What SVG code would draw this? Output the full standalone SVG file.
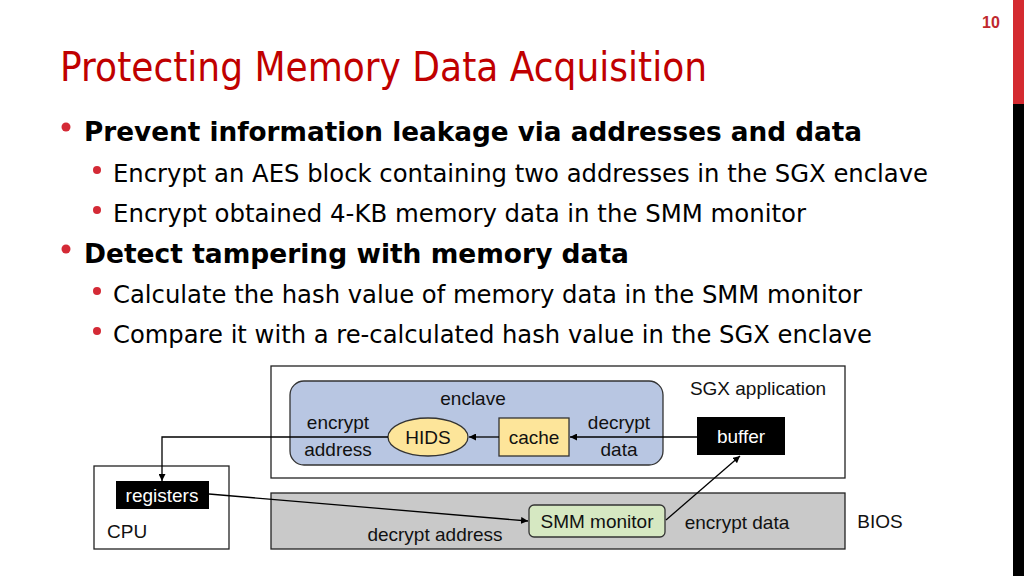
<svg xmlns="http://www.w3.org/2000/svg" width="1024" height="576" viewBox="0 0 1024 576">
<defs>
<marker id="ah" viewBox="0 0 10 10" refX="10" refY="5" markerWidth="7" markerHeight="7" markerUnits="userSpaceOnUse" orient="auto"><path d="M0,0 L10,5 L0,10 z" fill="#000"/></marker>
<style>
.t{font-family:"Liberation Sans",Arial,sans-serif;font-size:19px;fill:#111;}
.c{text-anchor:middle;}
.b1{font-family:"DejaVu Sans",Tahoma,sans-serif;font-weight:bold;font-size:27px;fill:#000;}
.b2{font-family:"DejaVu Sans",Tahoma,sans-serif;font-size:24px;fill:#000;}
.dot{fill:#d42a36;}
.ln{stroke:#000;stroke-width:1.3;fill:none;}
</style>
</defs>
<rect width="1024" height="576" fill="#fff"/>
<rect x="1013" y="0" width="11" height="104" fill="#d42a30"/>
<rect x="1013" y="104" width="11" height="472" fill="#000"/>
<text x="991" y="28" font-family="Liberation Sans,Arial,sans-serif" font-weight="bold" font-size="16" fill="#c0282e" text-anchor="middle">10</text>
<text x="60" y="81" font-family="DejaVu Sans,sans-serif" font-size="40" fill="#c00000" textLength="647" lengthAdjust="spacingAndGlyphs">Protecting Memory Data Acquisition</text>
<g id="bullets">
<circle class="dot" cx="66" cy="127" r="4.5"/>
<text class="b1" x="84" y="141" textLength="778" lengthAdjust="spacingAndGlyphs">Prevent information leakage via addresses and data</text>
<circle class="dot" cx="97" cy="170" r="4"/>
<text class="b2" x="113" y="182" textLength="815" lengthAdjust="spacingAndGlyphs">Encrypt an AES block containing two addresses in the SGX enclave</text>
<circle class="dot" cx="97" cy="210" r="4"/>
<text class="b2" x="113" y="222" textLength="693" lengthAdjust="spacingAndGlyphs">Encrypt obtained 4-KB memory data in the SMM monitor</text>
<circle class="dot" cx="66" cy="249" r="4.5"/>
<text class="b1" x="84" y="263" textLength="545" lengthAdjust="spacingAndGlyphs">Detect tampering with memory data</text>
<circle class="dot" cx="97" cy="291" r="4"/>
<text class="b2" x="113" y="303" textLength="749" lengthAdjust="spacingAndGlyphs">Calculate the hash value of memory data in the SMM monitor</text>
<circle class="dot" cx="97" cy="331" r="4"/>
<text class="b2" x="113" y="343" textLength="759" lengthAdjust="spacingAndGlyphs">Compare it with a re-calculated hash value in the SGX enclave</text>
</g>
<g id="sgx-app">
<rect x="271" y="366" width="574" height="112" fill="#fff" stroke="#222" stroke-width="1.3"/>
<text class="t c" x="758" y="395">SGX application</text>
</g>
<g id="enclave">
<rect x="290" y="381" width="373" height="84" rx="14" fill="#b8c6e2" stroke="#333" stroke-width="1.3"/>
<text class="t c" x="473" y="405">enclave</text>
<text class="t c" x="338" y="429">encrypt</text>
<text class="t c" x="338" y="456">address</text>
<text class="t c" x="619" y="429">decrypt</text>
<text class="t c" x="619" y="456">data</text>
</g>
<g id="hids">
<ellipse cx="428" cy="437" rx="40" ry="19" fill="#fde59a" stroke="#333" stroke-width="1.3"/>
<text class="t c" x="428" y="444">HIDS</text>
</g>
<g id="cache">
<rect x="499" y="418" width="70" height="38" fill="#fde59a" stroke="#333" stroke-width="1.3"/>
<text class="t c" x="534" y="444">cache</text>
</g>
<g id="buffer">
<rect x="697" y="417" width="88" height="38" fill="#000"/>
<text class="t c" x="741" y="443" style="fill:#fff">buffer</text>
</g>
<g id="cpu">
<rect x="94" y="466" width="135" height="83" fill="#fff" stroke="#222" stroke-width="1.3"/>
<text class="t" x="107" y="538">CPU</text>
</g>
<g id="registers">
<rect x="116" y="481" width="93" height="28" fill="#000"/>
<text class="t c" x="162" y="502" style="fill:#fff">registers</text>
</g>
<g id="bios">
<rect x="271" y="493" width="574" height="56" fill="#c9c9c9" stroke="#222" stroke-width="1.3"/>
<text class="t c" x="880" y="528">BIOS</text>
<text class="t c" x="435" y="541">decrypt address</text>
<text class="t c" x="737" y="529">encrypt data</text>
</g>
<g id="smm">
<rect x="529" y="505" width="136" height="32" rx="5" fill="#d6e8c2" stroke="#333" stroke-width="1.3"/>
<text class="t c" x="597" y="528">SMM monitor</text>
</g>
<g id="connectors">
<line class="ln" x1="697" y1="437" x2="570" y2="437" marker-end="url(#ah)"/>
<line class="ln" x1="499" y1="437" x2="469" y2="437" marker-end="url(#ah)"/>
<polyline class="ln" points="388,437 162,437 162,481" marker-end="url(#ah)"/>
<line class="ln" x1="209" y1="494" x2="528" y2="521" marker-end="url(#ah)"/>
<line class="ln" x1="666" y1="520" x2="740" y2="456" marker-end="url(#ah)"/>
</g>
</svg>
